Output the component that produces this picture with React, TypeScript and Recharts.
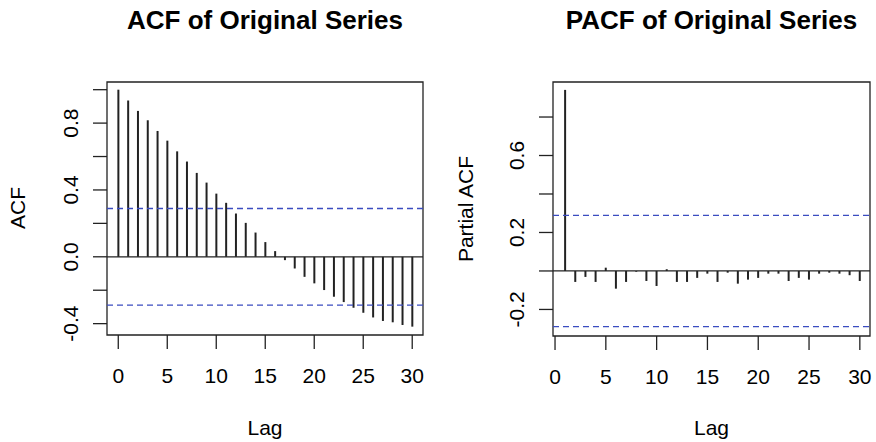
import { ComposedChart, Bar, XAxis, YAxis, ReferenceLine, ReferenceArea } from "recharts";

const FONT = "'Liberation Sans', Arial, sans-serif";

// ACF, lags 0..30
const acfLags = [0, 1, 2, 3, 4, 5, 6, 7, 8, 9, 10, 11, 12, 13, 14, 15, 16, 17, 18, 19, 20, 21, 22, 23, 24, 25, 26, 27, 28, 29, 30];
const acfValues = [
  1.0, 0.936, 0.873, 0.817, 0.753, 0.695, 0.631, 0.57, 0.502, 0.444, 0.378, 0.323, 0.259, 0.203, 0.145, 0.088,
  0.034, -0.02, -0.07, -0.12, -0.159, -0.199, -0.239, -0.271, -0.305, -0.335, -0.363, -0.384, -0.392, -0.408, -0.418,
];

// PACF, lags 1..30
const pacfLags = [1, 2, 3, 4, 5, 6, 7, 8, 9, 10, 11, 12, 13, 14, 15, 16, 17, 18, 19, 20, 21, 22, 23, 24, 25, 26, 27, 28, 29, 30];
const pacfValues = [
  0.941, -0.057, -0.031, -0.057, 0.017, -0.092, -0.057, -0.004, -0.052, -0.078, 0.009, -0.057, -0.057, -0.036, -0.014,
  -0.057, -0.009, -0.066, -0.045, -0.036, -0.014, -0.014, -0.052, -0.036, -0.045, -0.014, -0.009, -0.014, -0.022, -0.052,
];

const lagTicks = [0, 5, 10, 15, 20, 25, 30];
const acfYTicks = [-0.4, -0.2, 0, 0.2, 0.4, 0.6, 0.8, 1.0];
const acfYLabels = [-0.4, 0, 0.4, 0.8];
const pacfYTicks = [-0.2, 0, 0.2, 0.4, 0.6, 0.8];
const pacfYLabels = [-0.2, 0.2, 0.6];
const ciBound = 0.289;

const acfXDomain = [-1.15, 31.1];
const acfYDomain = [-0.468, 1.046];
const pacfXDomain = [-0.2, 31.0];
const pacfYDomain = [-0.338, 0.982];

const acfData = acfLags.map((lag, i) => ({ lag, value: acfValues[i] }));
const pacfData = pacfLags.map((lag, i) => ({ lag, value: pacfValues[i] }));

function makeYTick(labels: number[]) {
  return (props: any) => {
    const { x, y, payload } = props;
    const show = labels.some((v) => Math.abs(v - payload.value) < 1e-6);
    if (!show) return <g />;
    return (
      <text
        x={x}
        y={y}
        transform={`rotate(-90, ${x}, ${y})`}
        textAnchor="middle"
        fontSize={21}
        fontFamily={FONT}
        fill="#000"
      >
        {Number(payload.value).toFixed(1)}
      </text>
    );
  };
}

type PanelProps = {
  data: { lag: number; value: number }[];
  xDomain: number[];
  yDomain: number[];
  yTicks: number[];
  yLabels: number[];
  left: number;
  yAxisWidth: number;
  xAxisHeight: number;
  rightMargin: number;
  yTickMargin: number;
};

function Panel({ data, xDomain, yDomain, yTicks, yLabels, left, yAxisWidth, xAxisHeight, rightMargin, yTickMargin }: PanelProps) {
  return (
    <div style={{ position: "absolute", left, top: 0 }}>
      <ComposedChart
        width={438}
        height={442}
        data={data}
        margin={{ top: 82, right: rightMargin, bottom: 0, left: 0 }}
      >
        <XAxis
          dataKey="lag"
          type="number"
          domain={xDomain}
          ticks={lagTicks}
          interval={0}
          allowDataOverflow
          axisLine={false}
          tickLine={{ stroke: "#222", strokeWidth: 1.3 }}
          tickSize={14}
          tickMargin={19}
          height={xAxisHeight}
          tick={{ fontSize: 21, fill: "#000", fontFamily: FONT }}
        />
        <YAxis
          type="number"
          domain={yDomain}
          ticks={yTicks}
          interval={0}
          allowDataOverflow
          axisLine={false}
          tickLine={{ stroke: "#222", strokeWidth: 1.3 }}
          tickSize={14}
          tickMargin={yTickMargin}
          width={yAxisWidth}
          tick={makeYTick(yLabels)}
        />
        <ReferenceArea
          x1={xDomain[0]}
          x2={xDomain[1]}
          y1={yDomain[0]}
          y2={yDomain[1]}
          fill="none"
          fillOpacity={0}
          stroke="#222"
          strokeWidth={1.3}
        />
        <ReferenceLine y={0} stroke="#222" strokeWidth={1.3} />
        <ReferenceLine y={ciBound} stroke="#3b4cc0" strokeWidth={1.3} strokeDasharray="6 4" />
        <ReferenceLine y={-ciBound} stroke="#3b4cc0" strokeWidth={1.3} strokeDasharray="6 4" />
        <Bar dataKey="value" barSize={2} fill="#222" isAnimationActive={false} />
      </ComposedChart>
    </div>
  );
}

export default function App() {
  return (
    <div style={{ position: "absolute", left: 0, top: 0, width: 876, height: 442, background: "#fff" }}>
      <Panel
        data={acfData}
        xDomain={acfXDomain}
        yDomain={acfYDomain}
        yTicks={acfYTicks}
        yLabels={acfYLabels}
        left={0}
        yAxisWidth={107}
        xAxisHeight={107}
        rightMargin={15}
        yTickMargin={15}
      />
      <Panel
        data={pacfData}
        xDomain={pacfXDomain}
        yDomain={pacfYDomain}
        yTicks={pacfYTicks}
        yLabels={pacfYLabels}
        left={438}
        yAxisWidth={115}
        xAxisHeight={106}
        rightMargin={6}
        yTickMargin={15}
      />
      <svg width={876} height={442} style={{ position: "absolute", left: 0, top: 0, pointerEvents: "none" }}>
        <g fontFamily={FONT} fill="#000">
          <text x={265} y={29} textAnchor="middle" fontSize={26} fontWeight="bold">ACF of Original Series</text>
          <text x={711.5} y={29} textAnchor="middle" fontSize={26} fontWeight="bold">PACF of Original Series</text>
          <text x={265} y={435} textAnchor="middle" fontSize={21}>Lag</text>
          <text x={711.5} y={435} textAnchor="middle" fontSize={21}>Lag</text>
          <text x={25} y={208} textAnchor="middle" fontSize={21} transform="rotate(-90, 25, 208)">ACF</text>
          <text x={473} y={209} textAnchor="middle" fontSize={21} transform="rotate(-90, 473, 209)">Partial ACF</text>
        </g>
      </svg>
    </div>
  );
}
